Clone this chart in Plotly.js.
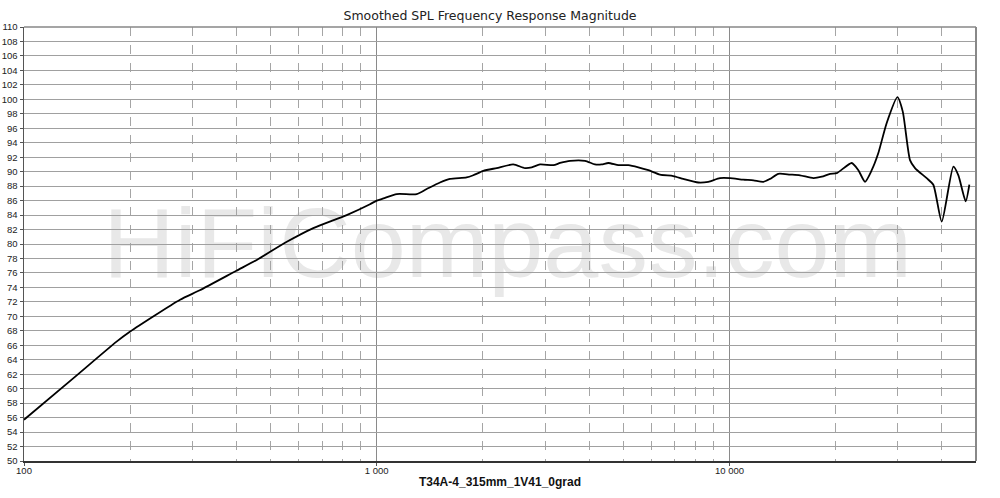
<!DOCTYPE html>
<html>
<head>
<meta charset="utf-8">
<script src="https://cdn.plot.ly/plotly-3.0.1.min.js"></script>
<style>html,body{margin:0;padding:0;background:#fff;}#chart{width:1000px;height:498px;}</style>
</head>
<body>
<div id="chart"></div>
<script>
const freq = [100,140,183,200,277,315,400,457,556,661,822,957,1000,1045,1140,1298,1386,1511,1613,1798,1878,2005,2188,2438,2631,2751,2904,3169,3311,3533,3896,4156,4343,4536,4844,5170,5516,5890,6355,6929,7398,8160,8710,9398,10040,10940,11700,12480,13030,13760,14850,15850,17300,18270,19290,20150,22210,23200,24230,25310,26400,27900,29930,31000,32500,33580,36240,37840,39980,43130,44570,46750,47880];
const spl = [55.7,61.7,66.5,67.9,72.3,73.6,76.3,77.8,80.3,82.2,84.0,85.5,86.0,86.3,86.9,86.9,87.6,88.5,89.0,89.2,89.5,90.1,90.5,91.0,90.5,90.6,91.0,90.9,91.2,91.5,91.5,91.0,91.0,91.2,90.9,90.9,90.6,90.2,89.6,89.4,89.0,88.5,88.6,89.1,89.1,88.9,88.8,88.6,89.0,89.7,89.6,89.5,89.1,89.3,89.7,89.8,91.2,90.2,88.6,90.2,92.5,96.7,100.3,98.3,91.6,90.5,89.1,88.2,83.1,90.7,89.5,85.9,88.2];
const majorTicks = [100,1000,10000];
const majorLabels = ['100','1 000','10 000'];
const minorTicks = [200,300,400,500,600,700,800,900,2000,3000,4000,5000,6000,7000,8000,9000,20000,30000,40000];
const yTicks = [];
for (let v = 50; v <= 110; v += 2) yTicks.push(v);
const chartTitle = 'Smoothed SPL Frequency Response Magnitude';
const xTitle = 'T34A-4_315mm_1V41_0grad';
const watermark = 'HiFiCompass.com';

const trace = {
  x: freq, y: spl, type: 'scatter', mode: 'lines',
  line: {color: '#000', width: 1.8, shape: 'spline', smoothing: 0.6},
  hoverinfo: 'skip'
};

const layout = {
  width: 1000, height: 498,
  margin: {l: 24, r: 24, t: 27, b: 37},
  paper_bgcolor: '#fff', plot_bgcolor: '#fff',
  showlegend: false,
  title: {text: chartTitle, x: 0.49, xanchor: 'center', y: 0.968, yanchor: 'middle',
          font: {family: 'DejaVu Sans', size: 12.5, color: '#222'}},
  xaxis: {
    type: 'log', range: [2, Math.log10(50000)],
    tickmode: 'array', tickvals: majorTicks, ticktext: majorLabels,
    showgrid: true, gridcolor: '#8a8a8a', gridwidth: 1,
    ticks: 'outside', ticklen: 3, tickcolor: '#555', ticklabelstandoff: -3,
    tickfont: {family: 'Liberation Sans', size: 9.5, color: '#222'},
    showline: true, linecolor: '#333', linewidth: 1.5, mirror: false,
    zeroline: false,
    minor: {tickmode: 'array', tickvals: minorTicks, showgrid: true, gridcolor: '#a5a5a5',
            griddash: 'dash', gridwidth: 1, ticks: ''},
    title: {text: xTitle, standoff: 2, font: {family: 'Liberation Sans', size: 12, color: '#111', weight: 'bold'}}
  },
  yaxis: {
    range: [50, 110], tickmode: 'array', tickvals: yTicks,
    showgrid: true, gridcolor: '#a0a0a0', gridwidth: 1,
    ticks: 'outside', ticklen: 3, tickcolor: '#555',
    tickfont: {family: 'Liberation Sans', size: 9.5, color: '#222'},
    showline: true, linecolor: '#555', linewidth: 1.5, mirror: false,
    zeroline: false
  },
  shapes: [
    {type: 'rect', xref: 'paper', yref: 'paper', x0: 0, x1: 1, y0: 1, y1: 1, line: {color: '#888', width: 1.5}, layer: 'above'},
    {type: 'line', xref: 'paper', yref: 'paper', x0: 1, x1: 1, y0: 0, y1: 1, line: {color: '#888', width: 2}, layer: 'above'},
    {type: 'rect', xref: 'paper', yref: 'paper', x0: 0.016, x1: 1, y0: 0.215, y1: 0.835,
     line: {width: 0}, fillcolor: 'rgba(0,0,0,0)', layer: 'below',
     label: {text: watermark, textposition: 'middle center',
             font: {family: 'Liberation Sans', size: 99, color: '#e8e8e8'}}}
  ]
};

Plotly.newPlot('chart', [trace], layout, {displayModeBar: false, staticPlot: true});
</script>
</body>
</html>
